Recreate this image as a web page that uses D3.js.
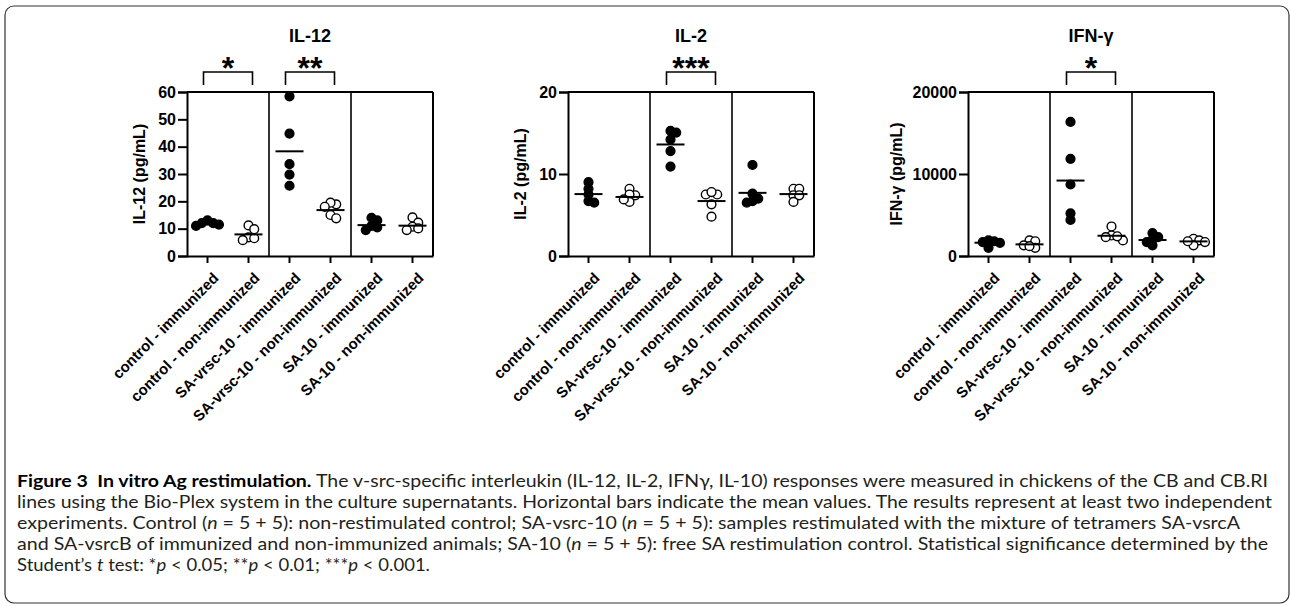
<!DOCTYPE html>
<html>
<head>
<meta charset="utf-8">
<script src="https://cdn.jsdelivr.net/npm/d3@7"></script>
<style>
  body { margin: 0; background: #fff; }
  svg { display: block; }
</style>
</head>
<body>
<svg id="chart" width="1290" height="606"></svg>
<script>
// groups on the x axis, shared by all three panels
const groups = ["control - immunized", "control - non-immunized",
                "SA-vrsc-10 - immunized", "SA-vrsc-10 - non-immunized",
                "SA-10 - immunized", "SA-10 - non-immunized"];
const immunized = [true, false, true, false, true, false];

// values, 5 birds per group
const il12Values = [
  [12.0, 13.0, 11.0, 11.5, 12.0],
  [11.2, 9.8, 6.8, 5.8, 6.5],
  [58.4, 44.8, 33.6, 29.8, 25.7],
  [18.9, 19.5, 15.0, 13.8, 18.0],
  [14.0, 13.0, 11.0, 9.5, 10.5],
  [14.1, 12.2, 10.7, 9.5, 10.1]
];
const il12Means = [11.6, 7.9, 38.3, 16.8, 11.3, 11.1];
const il12Ticks = [0, 10, 20, 30, 40, 50, 60];

const il2Values = [
  [9.0, 8.2, 7.5, 6.5, 6.7],
  [8.2, 7.4, 7.5, 6.6, 6.9],
  [14.2, 15.05, 15.25, 12.8, 10.9],
  [7.5, 7.5, 7.8, 6.3, 4.8],
  [11.1, 7.6, 7.0, 6.5, 6.7],
  [8.2, 8.2, 7.4, 7.4, 6.6]
];
const il2Means = [7.55, 7.2, 13.6, 6.7, 7.7, 7.55];
const il2Ticks = [0, 10, 20];

const ifngValues = [
  [1900, 1700, 1600, 1000, 1800],
  [1900, 1800, 1300, 1000, 1200],
  [16350, 11850, 8720, 5200, 4400],
  [3600, 2500, 1900, 2300, 2400],
  [2800, 2300, 1700, 1300, 2000],
  [2100, 1900, 1300, 1700, 1800]
];
const ifngMeans = [1620, 1420, 9200, 2470, 1950, 1780];
const ifngTicks = [0, 10000, 20000];

const il12Sig = [{a: 0, b: 1, label: "*"}, {a: 2, b: 3, label: "**"}];
const il2Sig = [{a: 2, b: 3, label: "***"}];
const ifngSig = [{a: 2, b: 3, label: "*"}];

const panels = [
  {title: "IL-12", yLabel: "IL-12 (pg/mL)", values: il12Values, means: il12Means, ticks: il12Ticks, sig: il12Sig, left: 187, labelX: 145},
  {title: "IL-2", yLabel: "IL-2 (pg/mL)", values: il2Values, means: il2Means, ticks: il2Ticks, sig: il2Sig, left: 568, labelX: 526},
  {title: "IFN-γ", yLabel: "IFN-γ (pg/mL)", values: ifngValues, means: ifngMeans, ticks: ifngTicks, sig: ifngSig, left: 968, labelX: 902}
];

const svg = d3.select("#chart");
const font = "'Liberation Sans', Arial, Helvetica, sans-serif";
const plotW = 246, yTop = 92, yBottom = 256, r = 4.4;

// outer rounded frame
svg.append("rect")
    .attr("x", 5).attr("y", 6)
    .attr("width", 1284).attr("height", 597)
    .attr("rx", 9)
    .attr("fill", "none")
    .attr("stroke", "#333")
    .attr("stroke-width", 1.2);

// dodge points sideways, GraphPad style (they may overlap a bit)
function swarm(vals, y, cx) {
  const placed = [];
  const out = new Array(vals.length);
  const order = vals.map((v, i) => i).sort((i, j) => vals[j] - vals[i]);
  const minD = r * 1.3;
  order.forEach(i => {
    const py = y(vals[i]);
    let off = 0;
    for (let k = 0; k < 20; k++) {
      const cand = k === 0 ? 0 : (k % 2 ? 1 : -1) * Math.ceil(k / 2) * r * 1.3;
      const hit = placed.some(p => Math.hypot(p.x - (cx + cand), p.y - py) < minD);
      if (!hit) { off = cand; break; }
    }
    out[i] = cx + off;
    placed.push({x: cx + off, y: py});
  });
  return out;
}

panels.forEach(p => {
  const x = d3.scaleBand().domain(groups).range([p.left, p.left + plotW]);
  const y = d3.scaleLinear().domain([0, d3.max(p.ticks)]).range([yBottom, yTop]);
  const g = svg.append("g");
  const cx = d => x(d) + x.bandwidth() / 2;

  // box: top, right and the two dividers
  g.append("line")
      .attr("x1", p.left).attr("x2", p.left + plotW)
      .attr("y1", yTop).attr("y2", yTop)
      .attr("stroke", "#000").attr("stroke-width", 2);
  [groups[2], groups[4]].forEach(d => {
    g.append("line")
        .attr("x1", x(d)).attr("x2", x(d))
        .attr("y1", yTop).attr("y2", yBottom)
        .attr("stroke", "#000").attr("stroke-width", 1.6);
  });
  g.append("line")
      .attr("x1", p.left + plotW).attr("x2", p.left + plotW)
      .attr("y1", yTop).attr("y2", yBottom)
      .attr("stroke", "#000").attr("stroke-width", 2);

  // axes
  const ya = g.append("g")
      .attr("transform", `translate(${p.left},0)`)
      .call(d3.axisLeft(y).tickValues(p.ticks).tickSize(9).tickPadding(2).tickFormat(d3.format("d")));
  ya.selectAll("text").attr("font-family", font).attr("font-weight", "bold").attr("font-size", 16).attr("fill", "#000");

  const xa = g.append("g")
      .attr("transform", `translate(0,${yBottom})`)
      .call(d3.axisBottom(x).tickSize(7).tickSizeOuter(0));
  xa.selectAll("text")
      .attr("font-family", font).attr("font-weight", "bold").attr("font-size", 15).attr("fill", "#000")
      .attr("text-anchor", "end")
      .attr("dy", 0)
      .attr("transform", "translate(5,16) rotate(-45)");
  [ya, xa].forEach(a => {
    a.select(".domain").attr("stroke-width", 2);
    a.selectAll(".tick line").attr("stroke-width", 2);
  });

  // points and means
  groups.forEach((grp, gi) => {
    const xs = swarm(p.values[gi], y, cx(grp));
    g.selectAll(null)
      .data(p.values[gi])
      .enter().append("circle")
        .attr("cx", (d, i) => xs[i])
        .attr("cy", d => y(d))
        .attr("r", r)
        .attr("fill", immunized[gi] ? "#000" : "#fff")
        .attr("stroke", "#000")
        .attr("stroke-width", 1.4);
    g.append("line")
        .attr("x1", cx(grp) - 14).attr("x2", cx(grp) + 14)
        .attr("y1", y(p.means[gi])).attr("y2", y(p.means[gi]))
        .attr("stroke", "#000").attr("stroke-width", 2);
  });

  // significance brackets
  p.sig.forEach(s => {
    const x1 = cx(groups[s.a]) - 4, x2 = cx(groups[s.b]) + 4;
    g.append("path")
        .attr("d", `M${x1},85V72H${x2}V85`)
        .attr("fill", "none").attr("stroke", "#000").attr("stroke-width", 1.6);
    g.append("text")
        .attr("x", (x1 + x2) / 2).attr("y", 79)
        .attr("text-anchor", "middle")
        .attr("font-family", font).attr("font-weight", "bold").attr("font-size", 32)
        .text(s.label);
  });

  // title and y label
  g.append("text")
      .attr("x", p.left + plotW / 2).attr("y", 42)
      .attr("text-anchor", "middle")
      .attr("font-family", font).attr("font-weight", "bold").attr("font-size", 18)
      .text(p.title);
  g.append("text")
      .attr("transform", `translate(${p.labelX},${(yTop + yBottom) / 2}) rotate(-90)`)
      .attr("text-anchor", "middle")
      .attr("font-family", font).attr("font-weight", "bold").attr("font-size", 16)
      .text(p.yLabel);
});

// caption
const captionLines = [
  [{t: "Figure 3  In vitro Ag restimulation.", b: true}, {t: " The v-src-specific interleukin (IL-12, IL-2, IFNγ, IL-10) responses were measured in chickens of the CB and CB.RI"}],
  [{t: "lines using the Bio-Plex system in the culture supernatants. Horizontal bars indicate the mean values. The results represent at least two independent"}],
  [{t: "experiments. Control ("}, {t: "n", i: true}, {t: " = 5 + 5): non-restimulated control; SA-vsrc-10 ("}, {t: "n", i: true}, {t: " = 5 + 5): samples restimulated with the mixture of tetramers SA-vsrcA"}],
  [{t: "and SA-vsrcB of immunized and non-immunized animals; SA-10 ("}, {t: "n", i: true}, {t: " = 5 + 5): free SA restimulation control. Statistical significance determined by the"}],
  [{t: "Student’s "}, {t: "t", i: true}, {t: " test: *"}, {t: "p", i: true}, {t: " < 0.05; **"}, {t: "p", i: true}, {t: " < 0.01; ***"}, {t: "p", i: true}, {t: " < 0.001."}]
];
const captionWidths = [1251, 1255, 1223, 1251, 413];

captionLines.forEach((line, li) => {
  const t = svg.append("text")
      .attr("x", 17).attr("y", 487 + li * 21)
      .attr("font-family", "Lato, 'Open Sans', sans-serif")
      .attr("font-size", 17)
      .attr("fill", "#231f20")
      .style("white-space", "pre")
      .attr("textLength", captionWidths[li])
      .attr("lengthAdjust", "spacingAndGlyphs");
  line.forEach(seg => {
    t.append("tspan")
        .attr("font-weight", seg.b ? "bold" : null)
        .attr("font-style", seg.i ? "italic" : null)
        .attr("fill", seg.b ? "#000" : null)
        .text(seg.t);
  });
});
</script>
</body>
</html>
